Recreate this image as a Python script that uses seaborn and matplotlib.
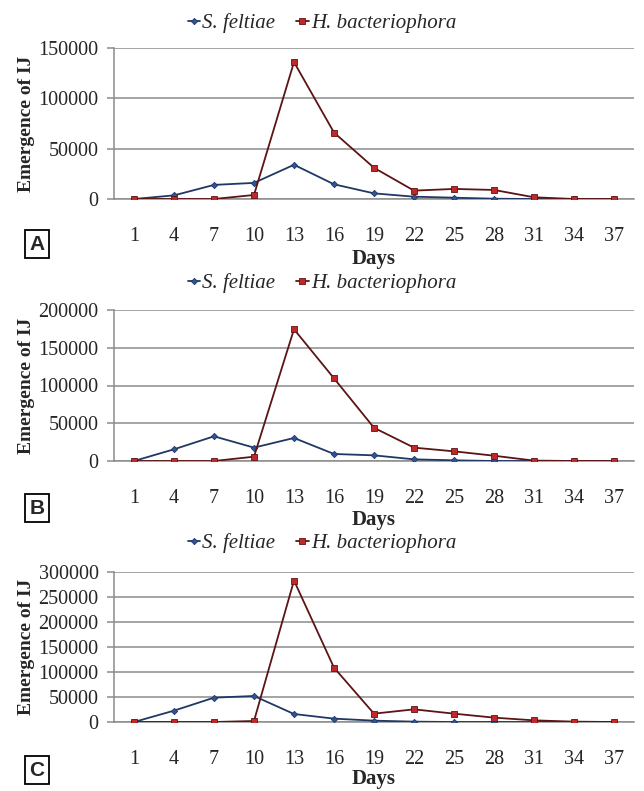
import matplotlib
matplotlib.use("Agg")
import matplotlib.pyplot as plt
import seaborn as sns
import pandas as pd

# days after inoculation (category axis)
days = [1, 4, 7, 10, 13, 16, 19, 22, 25, 28, 31, 34, 37]

# emergence of IJ
sf_A = [0, 3600, 14000, 16000, 34000, 14600, 5600, 2300, 1300, 300, 0, 0, 0]
hb_A = [0, 0, 0, 4000, 136000, 66000, 31000, 8300, 10000, 9000, 1700, 0, 0]
sf_B = [0, 15500, 32700, 17700, 30500, 9300, 7500, 2200, 900, 0, 0, 0, 0]
hb_B = [0, 0, 0, 5700, 174500, 109500, 44000, 17700, 12800, 7000, 500, 0, 0]
sf_C = [0, 22700, 48700, 52000, 16000, 6700, 2700, 700, 0, 0, 0, 0, 0]
hb_C = [0, 0, 0, 2000, 283000, 108700, 16700, 25300, 16700, 8700, 3300, 700, 0]

panels = ["A", "B", "C"]
ymax = [150000, 200000, 300000]
species = ["S. feltiae", "H. bacteriophora"]

sns.set_theme(style="white")
plt.rcParams["font.family"] = ["Liberation Serif", "DejaVu Serif"]

W, H = 644, 791
fig = plt.figure(figsize=(W / 100, H / 100), dpi=100)

# pixel boxes: (left, top, right, bottom) of each plot area
boxes = [(114, 48, 634, 199), (114, 310, 634, 461), (114, 572, 634, 722)]
letter_y = [244, 508, 770]
legend_y = [23, 283, 543]
days_pad = [2, 1.5, 0.5]

line_cols = ["#1f3864", "#5c1414"]
face_cols = ["#2f5597", "#c0282a"]
mkrs = ["D", "s"]
msizes = [3.2, 5.0]

data = {"A": (sf_A, hb_A), "B": (sf_B, hb_B), "C": (sf_C, hb_C)}

for k, p in enumerate(panels):
    l, t, r, b = boxes[k]
    ax = fig.add_axes([l / W, 1 - b / H, (r - l) / W, (b - t) / H])
    df = pd.DataFrame({"Days": days * 2,
                       "IJ": list(data[p][0]) + list(data[p][1]),
                       "sp": [species[0]] * len(days) + [species[1]] * len(days)})
    for i, s in enumerate(species):
        sub = df[df["sp"] == s]
        sns.lineplot(data=sub, x="Days", y="IJ", ax=ax, color=line_cols[i],
                     marker=mkrs[i], markersize=msizes[i], markerfacecolor=face_cols[i],
                     markeredgecolor=line_cols[i], markeredgewidth=0.6,
                     linewidth=1.3, label=s, legend=False, zorder=3 + i)
    ax.set_xlim(days[0] - 1.5, days[-1] + 1.5)
    ax.set_ylim(0, ymax[k])
    ax.set_yticks(range(0, ymax[k] + 1, 50000))
    ax.set_xticks(days)
    ax.set_xticks([d - 1.5 for d in days] + [days[-1] + 1.5], minor=True)
    ax.yaxis.grid(True, color="#8c8c8c", linewidth=1.1)
    ax.set_axisbelow(True)
    for side in ["top", "right"]:
        ax.spines[side].set_visible(False)
    for side in ["left", "bottom"]:
        ax.spines[side].set_color("#8c8c8c")
        ax.spines[side].set_linewidth(1.1)
    ax.tick_params(axis="x", which="major", length=0, pad=20, labelsize=14.5)
    ax.tick_params(axis="x", which="minor", length=5, width=1.1, color="#8c8c8c", direction="out")
    ax.tick_params(axis="y", length=5, width=1.1, color="#8c8c8c", direction="out",
                   left=True, pad=6, labelsize=14.5)
    ax.set_xlabel("Days", fontsize=15, fontweight="bold", labelpad=days_pad[k])
    ax.set_ylabel("Emergence of IJ", fontsize=14, fontweight="bold")
    ax.yaxis.set_label_coords(-(l - 35) / (r - l), 0.5)

    handles, labels = ax.get_legend_handles_labels()
    fig.legend(handles, labels, loc="center", ncol=2, frameon=False,
               bbox_to_anchor=(322 / W, 1 - legend_y[k] / H),
               prop={"family": "Liberation Serif", "style": "italic", "size": 15},
               handlelength=0.6, handletextpad=0.1, columnspacing=1.0)

    fig.text(37 / W, 1 - letter_y[k] / H, p, ha="center", va="center",
             fontsize=15, fontweight="bold", family="Liberation Sans",
             bbox=dict(boxstyle="square,pad=0.2", facecolor="white",
                       edgecolor="black", linewidth=1.3))

fig.savefig("out.png", dpi=100)
